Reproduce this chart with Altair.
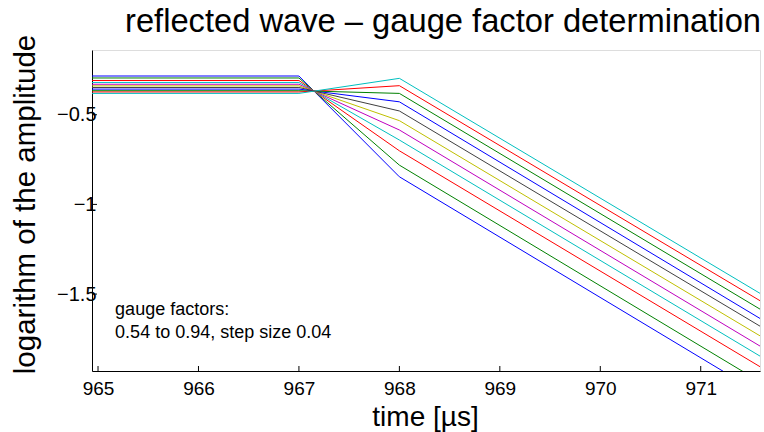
import altair as alt
import pandas as pd

# gauge factors 0.54 .. 0.94, step 0.04
gauge_factors = ["0.54", "0.58", "0.62", "0.66", "0.70", "0.74", "0.78", "0.82", "0.86", "0.90", "0.94"]
line_colors = ["#0000FF", "#008000", "#FF0000", "#00BFBF", "#BF00BF", "#BFBF00", "#404040",
               "#0000FF", "#008000", "#FF0000", "#00BFBF"]

# time points [µs]
time_points = [964.94, 967.0, 968.0, 971.59]
# log amplitude of each curve at those time points
val_start = [-0.284, -0.295, -0.309, -0.320, -0.330, -0.339, -0.348, -0.357, -0.366, -0.373, -0.381]
val_967 = [-0.284, -0.295, -0.309, -0.320, -0.330, -0.339, -0.348, -0.357, -0.366, -0.373, -0.381]
val_968 = [-0.846, -0.781, -0.701, -0.641, -0.585, -0.533, -0.479, -0.428, -0.381, -0.338, -0.297]
val_end = [-2.054, -1.989, -1.905, -1.846, -1.790, -1.733, -1.679, -1.636, -1.584, -1.537, -1.496]

x_ticks = [965, 966, 967, 968, 969, 970, 971]
y_ticks = [-1.5, -1.0, -0.5]

x_domain = [964.94, 971.59]
y_domain = [-1.929, -0.139]

note_lines = ["gauge factors:", "0.54 to 0.94, step size 0.04"]
note_x = [965.17, 965.17]
note_y = [-1.617, -1.745]

rows = []
for i, g in enumerate(gauge_factors):
    vals = [val_start[i], val_967[i], val_968[i], val_end[i]]
    for j, t in enumerate(time_points):
        rows.append({"gf": g, "idx": i, "t": t, "v": vals[j], "ord": j})
df = pd.DataFrame(rows)

W, H = 668, 321
FONT = "Liberation Sans"

xs = alt.Scale(domain=x_domain, nice=False, zero=False)
ys = alt.Scale(domain=y_domain, nice=False, zero=False)

lines = alt.Chart(df).mark_line(strokeWidth=1, clip=True).encode(
    x=alt.X("t:Q", scale=xs,
            axis=alt.Axis(values=x_ticks, format="d", ticks=False, tickSize=0, grid=False, labelPadding=8,
                          labelFontSize=19, labelFont=FONT, labelColor="black",
                          domainColor="black", domainWidth=1,
                          title="time [µs]", titleFontSize=28, titleFont=FONT,
                          titleFontWeight="normal", titleColor="black",
                          titleX=333, titleY=54, titleBaseline="alphabetic", titleAlign="center")),
    y=alt.Y("v:Q", scale=ys,
            axis=alt.Axis(values=y_ticks, format="~g", ticks=False, tickSize=0, grid=False, labelPadding=-4,
                          labelFontSize=20, labelFont=FONT, labelColor="black",
                          domainColor="black", domainWidth=1,
                          title="logarithm of the amplitude", titleFontSize=29.5, titleFont=FONT,
                          titleFontWeight="normal", titleColor="black",
                          titleX=-58, titleY=154, titleAngle=270, titleBaseline="alphabetic",
                          titleAlign="center")),
    color=alt.Color("gf:N", scale=alt.Scale(domain=gauge_factors, range=line_colors), legend=None),
    order=alt.Order("ord:Q"),
)

xt = alt.Chart(pd.DataFrame({"t": x_ticks})).mark_rule(color="black", strokeWidth=1).encode(
    x=alt.X("t:Q", scale=xs), y=alt.value(H), y2=alt.value(H - 5))
yt = alt.Chart(pd.DataFrame({"v": y_ticks})).mark_rule(color="black", strokeWidth=1).encode(
    y=alt.Y("v:Q", scale=ys), x=alt.value(0), x2=alt.value(5))

note = alt.Chart(pd.DataFrame({"t": note_x, "v": note_y, "s": note_lines})).mark_text(
    align="left", baseline="alphabetic", fontSize=18, font=FONT, color="black").encode(
    x=alt.X("t:Q", scale=xs), y=alt.Y("v:Q", scale=ys), text="s:N")

chart = alt.layer(lines, xt, yt, note).properties(
    width=W, height=H,
    title=alt.Title("reflected wave – gauge factor determination", fontSize=32.7, font=FONT,
                    fontWeight="normal", color="black", anchor="middle", dx=17, dy=42,
                    baseline="alphabetic", offset=12),
    autosize=alt.AutoSizeParams(type="none"),
    padding={"left": 92, "top": 50, "right": 4, "bottom": 61},
).configure_view(stroke=None).configure(background="white")

chart.save("out.html", embed_options={"renderer": "svg", "actions": False})
